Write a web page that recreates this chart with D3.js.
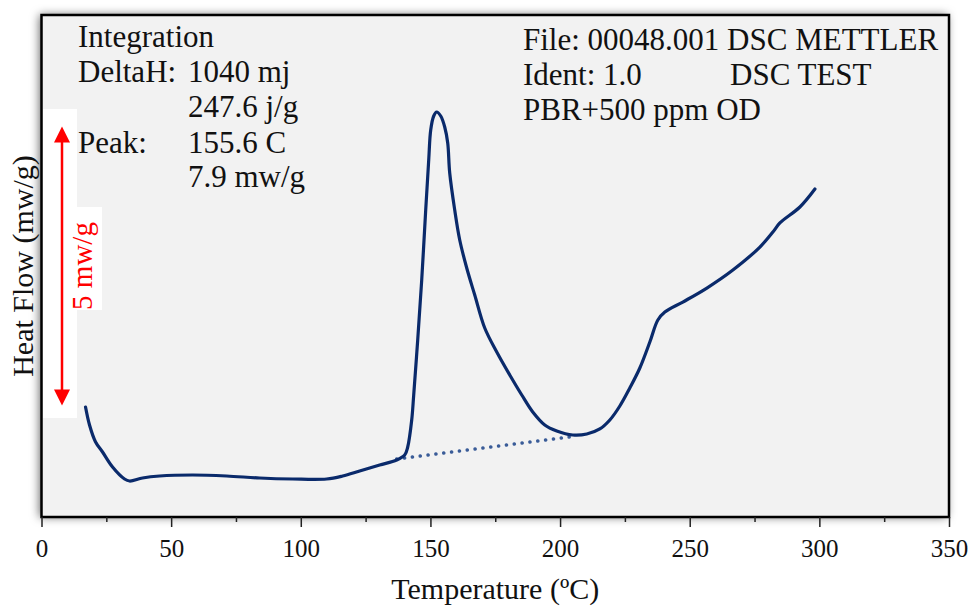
<!DOCTYPE html>
<html>
<head>
<meta charset="utf-8">
<script src="https://cdn.jsdelivr.net/npm/d3@7"></script>
<style>
  html, body { margin: 0; padding: 0; background: #ffffff; }
  svg { display: block; font-family: "Liberation Serif", "Times New Roman", serif; }
</style>
</head>
<body>
<svg id="chart" width="973" height="607"></svg>
<script>
// ---- data ----
const temperature = [16.98, 18.52, 20.8, 23.54, 27.40, 32.03, 33.96, 38.97, 45.54, 58.27, 71.39, 84.12, 96.86, 109.98, 116.15, 122.71, 130.43, 136.99, 140.08, 141.24, 142.78, 143.55, 145.09, 146.64, 148.18, 149.34, 150.11, 151.27, 152.42, 153.97, 155.51, 156.67, 157.44, 159.37, 161.30, 164.00, 167.09, 170.95, 175.58, 180.60, 185.23, 189.47, 194.10, 198.73, 204.91, 210.31, 215.33, 219.19, 223.05, 226.90, 230.76, 234.62, 237.71, 240.41, 247.35, 256.62, 266.65, 277.07, 282.08, 284.78, 292.50, 298.29];
const heatFlow = [1.972, 1.649, 1.35, 1.165, 0.896, 0.681, 0.645, 0.699, 0.735, 0.753, 0.735, 0.699, 0.681, 0.681, 0.735, 0.825, 0.932, 1.022, 1.112, 1.255, 1.739, 2.187, 3.173, 4.249, 5.504, 6.400, 6.938, 7.189, 7.261, 7.189, 6.992, 6.705, 6.167, 5.504, 4.966, 4.464, 3.980, 3.388, 2.958, 2.546, 2.187, 1.882, 1.649, 1.542, 1.470, 1.488, 1.578, 1.739, 1.990, 2.313, 2.671, 3.137, 3.532, 3.675, 3.854, 4.105, 4.428, 4.840, 5.109, 5.271, 5.558, 5.880];
const baselineT = [136.99, 206.45];
const baselineHF = [1.040, 1.452];
const xTicks = [0, 50, 100, 150, 200, 250, 300, 350];
const xMinorTicks = [25, 75, 125, 175, 225, 275, 325];
const scaleBarHF = [2, 7];
const scaleBarLabel = "5 mw/g";
const infoLeft = [["Integration", ""], ["DeltaH:", "1040 mj"], ["", "247.6 j/g"], ["Peak:", "155.6 C"], ["", "7.9 mw/g"]];
const infoRight = [["File: 00048.001 DSC METTLER", ""], ["Ident: 1.0", "DSC TEST"], ["PBR+500 ppm OD", ""]];
const xTitle = "Temperature (\u00BAC)";
const yTitle = "Heat Flow (mw/g)";

// ---- layout ----
const svg = d3.select("#chart");
const L = 41.5, R = 949, T = 15, B = 517;
const x = d3.scaleLinear().domain([0, 350]).range([L, R]);
const y = d3.scaleLinear().domain([0, 9]).range([B, T]);

const defs = svg.append("defs");
const f = defs.append("filter").attr("id", "shadow").attr("x", "-10%").attr("y", "-10%").attr("width", "120%").attr("height", "120%");
f.append("feDropShadow").attr("dx", -2).attr("dy", 0).attr("stdDeviation", 5).attr("flood-color", "#000").attr("flood-opacity", 0.6);

// frame
svg.append("rect")
  .attr("x", L).attr("y", T).attr("width", R - L).attr("height", B - T)
  .attr("fill", "#f2f2f2").attr("filter", "url(#shadow)");
svg.append("rect")
  .attr("x", L).attr("y", T).attr("width", R - L).attr("height", B - T)
  .attr("fill", "none").attr("stroke", "#000").attr("stroke-width", 2.5);

// x axis
const axisMajor = svg.append("g").attr("transform", `translate(0,${B})`)
  .call(d3.axisBottom(x).tickValues(xTicks).tickSize(10).tickPadding(12).tickFormat(d3.format("d")));
axisMajor.select(".domain").remove();
axisMajor.selectAll(".tick line").attr("stroke", "#222").attr("stroke-width", 1.5);
axisMajor.selectAll(".tick text").attr("font-size", 25).attr("fill", "#111")
  .attr("font-family", "Liberation Serif, Times New Roman, serif");
const axisMinor = svg.append("g").attr("transform", `translate(0,${B})`)
  .call(d3.axisBottom(x).tickValues(xMinorTicks).tickSize(5).tickFormat(""));
axisMinor.select(".domain").remove();
axisMinor.selectAll(".tick line").attr("stroke", "#222").attr("stroke-width", 1.5);

// titles
svg.append("text").attr("x", (L + R) / 2).attr("y", 599).attr("text-anchor", "middle")
  .attr("font-size", 30).attr("fill", "#111").text(xTitle);
svg.append("text").attr("transform", "translate(33,266) rotate(-90)").attr("text-anchor", "middle")
  .attr("font-size", 30).attr("fill", "#111").text(yTitle);

// baseline (dotted)
svg.append("path")
  .datum(baselineT.map((t, i) => [t, baselineHF[i]]))
  .attr("d", d3.line().x(d => x(d[0])).y(d => y(d[1])))
  .attr("fill", "none").attr("stroke", "#3a5c98").attr("stroke-width", 3.5)
  .attr("stroke-linecap", "round").attr("stroke-dasharray", "0.1 7.8");

// curve
svg.append("path")
  .datum(temperature.map((t, i) => [t, heatFlow[i]]))
  .attr("d", d3.line().x(d => x(d[0])).y(d => y(d[1])).curve(d3.curveCatmullRom.alpha(0.5)))
  .attr("fill", "none").attr("stroke", "#0a2a6b").attr("stroke-width", 3.2)
  .attr("stroke-linejoin", "round").attr("stroke-linecap", "round");

// scale bar
const ax = 62;
svg.append("rect").attr("x", 43).attr("y", 109).attr("width", 34).attr("height", 309).attr("fill", "#fff");
const yTop = y(scaleBarHF[1]), yBot = y(scaleBarHF[0]);
svg.append("line").attr("x1", ax).attr("x2", ax).attr("y1", yTop + 12).attr("y2", yBot - 12)
  .attr("stroke", "#ff0000").attr("stroke-width", 2.5);
svg.append("path").attr("d", `M${ax},${yTop} L${ax - 8},${yTop + 16} L${ax + 8},${yTop + 16} Z`).attr("fill", "#ff0000");
svg.append("path").attr("d", `M${ax},${yBot} L${ax - 8},${yBot - 16} L${ax + 8},${yBot - 16} Z`).attr("fill", "#ff0000");
svg.append("rect").attr("x", 68).attr("y", 207).attr("width", 34).attr("height", 103).attr("fill", "#fff");
svg.append("text").attr("transform", `translate(92,${(yTop + yBot) / 2}) rotate(-90)`).attr("text-anchor", "middle")
  .attr("font-size", 29).attr("fill", "#ff0000").text(scaleBarLabel);

// info text
const leftBase = [47, 82, 117, 153, 187];
infoLeft.forEach((row, i) => {
  if (row[0]) svg.append("text").attr("x", 78).attr("y", leftBase[i]).attr("font-size", 31).attr("fill", "#111").text(row[0]);
  if (row[1]) svg.append("text").attr("x", 188).attr("y", leftBase[i]).attr("font-size", 31).attr("fill", "#111").text(row[1]);
});
const rightBase = [50, 85, 120];
infoRight.forEach((row, i) => {
  if (row[0]) svg.append("text").attr("x", 523).attr("y", rightBase[i]).attr("font-size", 31).attr("fill", "#111").text(row[0]);
  if (row[1]) svg.append("text").attr("x", 730).attr("y", rightBase[i]).attr("font-size", 31).attr("fill", "#111").text(row[1]);
});
</script>
</body>
</html>
